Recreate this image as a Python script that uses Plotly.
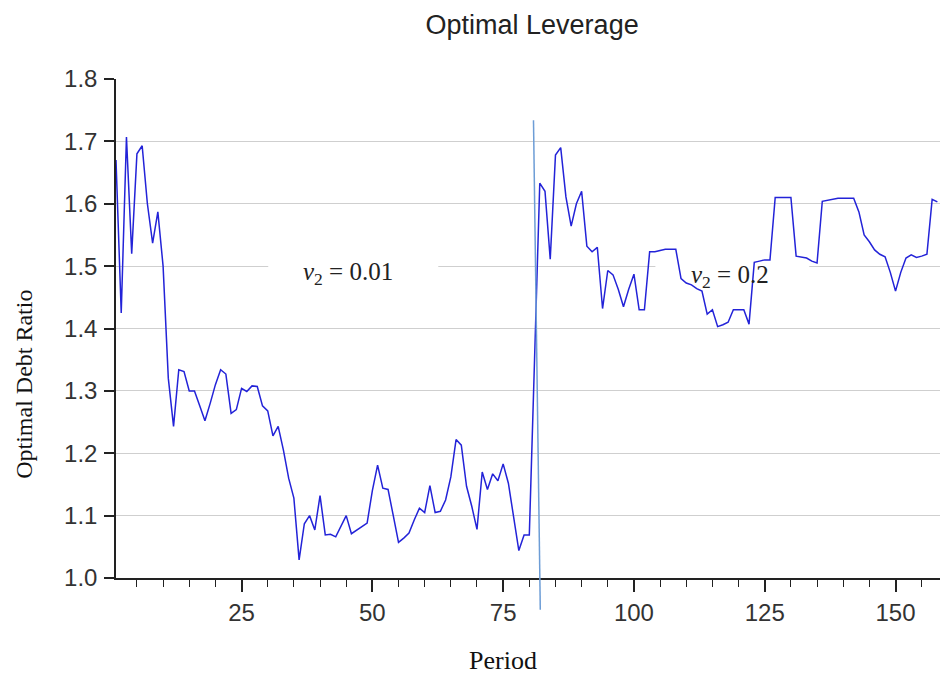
import plotly.graph_objects as go

# Optimal debt ratio per period
periods = list(range(1, 159))
debt_ratio = [
    1.67, 1.425, 1.707, 1.52, 1.68, 1.693, 1.60, 1.537, 1.587, 1.50,
    1.32, 1.243, 1.334, 1.331, 1.30, 1.30, 1.276, 1.252, 1.28, 1.31,
    1.334, 1.327, 1.264, 1.27, 1.304, 1.299, 1.308, 1.307, 1.276, 1.268,
    1.228, 1.243, 1.205, 1.16, 1.128, 1.029, 1.087, 1.10, 1.077, 1.132,
    1.069, 1.07, 1.066, 1.082, 1.10, 1.071, 1.077, 1.082, 1.088, 1.14,
    1.181, 1.144, 1.142, 1.10, 1.057, 1.064, 1.072, 1.093, 1.112, 1.105,
    1.148, 1.105, 1.107, 1.125, 1.162, 1.222, 1.213, 1.147, 1.115, 1.078,
    1.17, 1.142, 1.167, 1.156, 1.183, 1.152, 1.098, 1.044, 1.069, 1.069,
    1.35, 1.633, 1.62, 1.511, 1.678, 1.69, 1.611, 1.564, 1.60, 1.62,
    1.532, 1.523, 1.53, 1.432, 1.493, 1.486, 1.463, 1.435, 1.463, 1.487,
    1.43, 1.43, 1.523, 1.523, 1.525, 1.527, 1.527, 1.527, 1.48, 1.473,
    1.47, 1.464, 1.46, 1.423, 1.43, 1.403, 1.406, 1.41, 1.43, 1.43,
    1.43, 1.407, 1.506, 1.508, 1.51, 1.51, 1.61, 1.61, 1.61, 1.61,
    1.516, 1.515, 1.513, 1.508, 1.505, 1.604, 1.606, 1.607, 1.609, 1.609,
    1.609, 1.609, 1.587, 1.55, 1.539, 1.526, 1.519, 1.515, 1.49, 1.46,
    1.49, 1.513, 1.518, 1.514, 1.516, 1.519, 1.607, 1.603,
]

# Regime labels
regime_text = ["<i>v</i><sub>2</sub> = 0.01", "<i>v</i><sub>2</sub> = 0.2"]
regime_x = [45.4, 118.3]
regime_y = [1.488, 1.484]
# Extent of the white boxes behind the regime labels (period range)
regime_box_x = [(30.1, 62.6), (104.1, 133.5)]

# Regime break marker
break_x = [80.8, 82.1]
break_y = [1.734, 0.949]

x_range = [1, 158.5]
y_range = [1.0, 1.8]
y_ticks = [1.0, 1.1, 1.2, 1.3, 1.4, 1.5, 1.6, 1.7, 1.8]
y_tick_text = ["1.0", "1.1", "1.2", "1.3", "1.4", "1.5", "1.6", "1.7", "1.8"]


def to_paper_x(v):
    return (v - x_range[0]) / (x_range[1] - x_range[0])


def to_paper_y(v):
    return (v - y_range[0]) / (y_range[1] - y_range[0])


fig = go.Figure()
fig.add_trace(go.Scatter(
    x=periods, y=debt_ratio, mode="lines",
    line=dict(color="#2323d8", width=1.5),
    showlegend=False, hoverinfo="x+y",
))

shapes = []
for x0, x1 in regime_box_x:
    shapes.append(dict(
        type="rect", xref="x", yref="y", x0=x0, x1=x1, y0=1.47, y1=1.53,
        fillcolor="white", line=dict(width=0), layer="between",
    ))
shapes.append(dict(
    type="line", xref="paper", yref="paper",
    x0=to_paper_x(break_x[0]), y0=to_paper_y(break_y[0]),
    x1=to_paper_x(break_x[1]), y1=to_paper_y(break_y[1]),
    line=dict(color="#6d9dd6", width=1.5),
))

annotations = []
for txt, xv, yv in zip(regime_text, regime_x, regime_y):
    annotations.append(dict(
        x=xv, y=yv, xref="x", yref="y", text=txt, showarrow=False,
        font=dict(family="Liberation Serif", size=25, color="#222"),
        xanchor="center", yanchor="middle",
    ))
annotations.append(dict(
    x=0.4697, y=-0.165, xref="paper", yref="paper", text="Period",
    showarrow=False, xanchor="center", yanchor="middle",
    font=dict(family="Liberation Serif", size=26, color="#111"),
))
annotations.append(dict(
    x=-0.1117, y=0.389, xref="paper", yref="paper", text="Optimal Debt Ratio",
    showarrow=False, textangle=-90, xanchor="center", yanchor="middle",
    font=dict(family="Liberation Serif", size=24, color="#111"),
))

fig.update_layout(
    width=940, height=676,
    margin=dict(l=116, r=0, t=79, b=98),
    paper_bgcolor="white", plot_bgcolor="white",
    title=dict(
        text="Optimal Leverage", x=0.505, xref="paper", xanchor="center",
        y=1 - 25 / 676, yref="container", yanchor="middle",
        font=dict(family="Liberation Sans", size=27, color="#222"),
    ),
    xaxis=dict(
        range=x_range, tick0=0, dtick=25, ticks="outside", ticklen=12,
        tickcolor="#222", tickwidth=1.5,
        showline=True, linecolor="#222", linewidth=1.5,
        showgrid=False, zeroline=False,
        tickfont=dict(family="Liberation Sans", size=24, color="#333"),
        minor=dict(dtick=5, tick0=0, ticks="outside", ticklen=7,
                   tickcolor="#222", tickwidth=1.2, showgrid=False),
    ),
    yaxis=dict(
        range=y_range, tickvals=y_ticks, ticktext=y_tick_text,
        ticks="outside", ticklen=10, tickcolor="#222", tickwidth=1.5,
        showline=True, linecolor="#222", linewidth=1.5,
        showgrid=True, gridcolor="#cfcfcf", gridwidth=1.2, zeroline=False,
        tickfont=dict(family="Liberation Sans", size=24, color="#333"),
        ticklabelstandoff=2,
    ),
    shapes=shapes,
    annotations=annotations,
)

fig.write_html("out.html")
